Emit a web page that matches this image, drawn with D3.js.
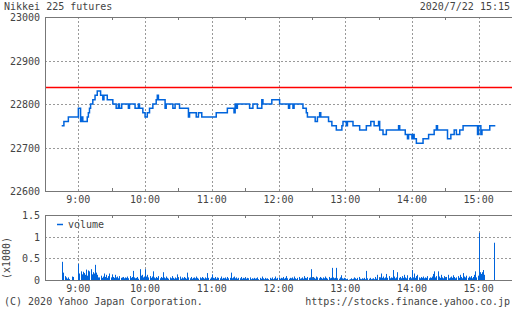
<!DOCTYPE html>
<html>
<head>
<meta charset="utf-8">
<script src="https://cdn.jsdelivr.net/npm/d3@7"></script>
<style>
  body { margin: 0; background: #fff; }
  svg text { font-family: "DejaVu Sans Mono", monospace; font-size: 10px; fill: #444; }
</style>
</head>
<body>
<svg class="graph"></svg>
<script>
// price steps: [time, price] (value holds until next step)
const priceTimes = ["08:45","08:47","08:51","09:00","09:02","09:03","09:04","09:08","09:09","09:10",
  "09:11","09:13","09:15","09:17","09:20","09:22","09:23","09:26","09:31","09:34",
  "09:36","09:37","09:39","09:45","09:46","09:51","09:54","09:55","09:58","10:00",
  "10:02","10:04","10:07","10:10","10:11","10:12","10:18","10:19","10:25","10:27",
  "10:31","10:39","10:40","10:46","10:48","10:51","11:04","11:14","11:20","11:21",
  "11:22","11:23","11:34","11:37","11:41","11:45","11:46","11:54","12:01","12:09",
  "12:10","12:13","12:14","12:22","12:25","12:26","12:33","12:35","12:37","12:38",
  "12:45","12:48","12:52","12:57","12:58","13:01","13:02","13:07","13:13","13:19",
  "13:23","13:26","13:30","13:31","13:34","13:37","13:48","13:49","13:54","13:56",
  "13:57","14:00","14:01","14:02","14:04","14:10","14:15","14:20","14:22","14:23",
  "14:32","14:35","14:38","14:40","14:43","14:46","14:59","15:00","15:02","15:03",
  "15:10","15:15"];
const priceValues = [22750,22760,22770,22790,22760,22770,22760,22770,22780,22790,
  22800,22810,22820,22830,22820,22810,22820,22810,22800,22790,
  22800,22790,22800,22790,22800,22790,22800,22790,22780,22770,
  22780,22790,22800,22810,22820,22810,22790,22800,22790,22800,
  22790,22770,22780,22770,22780,22770,22780,22790,22780,22800,
  22790,22800,22790,22800,22790,22810,22800,22810,22800,22790,
  22800,22790,22800,22790,22780,22770,22760,22770,22780,22770,
  22760,22750,22740,22750,22760,22750,22760,22750,22740,22750,
  22760,22750,22760,22740,22730,22740,22750,22740,22730,22720,
  22730,22720,22730,22720,22710,22720,22730,22740,22750,22740,
  22720,22730,22740,22730,22740,22750,22730,22750,22730,22740,
  22750,22750];

// 1-minute volume (x1000), from 08:45 to 15:15
const volStart = "08:45";
const volumes = [
  0.42,0.17,0.00,0.09,0.06,0.03,0.06,0.02,0.00,0.08,0.07,0.00,0.00,0.00,0.00,
  0.37,0.15,0.20,0.13,0.19,0.16,0.12,0.24,0.10,0.22,
  0.20,0.25,0.13,0.18,0.15,0.35,0.17,0.12,0.06,0.06,
  0.10,0.05,0.08,0.15,0.07,0.12,0.05,0.09,0.15,0.06,
  0.13,0.07,0.05,0.12,0.06,0.08,0.04,0.09,0.05,0.06,
  0.07,0.04,0.06,0.05,0.08,0.04,0.09,0.05,0.07,0.21,
  0.06,0.04,0.05,0.07,0.03,0.25,0.10,0.12,0.06,0.08,
  0.25,0.08,0.12,0.06,0.09,0.05,0.08,0.20,0.06,0.04,
  0.07,0.05,0.09,0.04,0.07,0.05,0.18,0.06,0.04,0.08,
  0.05,0.03,0.06,0.04,0.09,0.05,0.03,0.06,0.04,0.13,
  0.05,0.08,0.03,0.06,0.04,0.07,0.05,0.03,0.17,0.06,
  0.04,0.07,0.03,0.05,0.06,0.04,0.08,0.05,0.03,0.06,
  0.04,0.07,0.05,0.03,0.06,0.04,0.16,0.05,0.03,0.06,
  0.13,0.05,0.04,0.07,0.03,0.06,0.05,0.04,0.08,0.03,
  0.05,0.04,0.06,0.03,0.07,0.04,0.05,0.17,0.04,0.06,
  0.08,0.04,0.06,0.03,0.05,0.04,0.07,0.03,0.05,0.04,
  0.06,0.03,0.05,0.04,0.06,0.02,0.04,0.03,0.05,0.03,
  0.04,0.06,0.02,0.05,0.03,0.08,0.04,0.02,0.05,0.03,
  0.04,0.02,0.05,0.03,0.06,0.02,0.04,0.08,0.03,0.05,
  0.06,0.03,0.05,0.04,0.07,0.03,0.05,0.09,0.04,0.03,
  0.05,0.04,0.06,0.03,0.08,0.04,0.02,0.05,0.07,0.03,
  0.04,0.06,0.03,0.09,0.05,0.04,0.07,0.05,0.06,0.25,
  0.04,0.07,0.05,0.03,0.08,0.06,0.04,0.07,0.05,0.03,
  0.06,0.04,0.08,0.05,0.03,0.07,0.04,0.05,0.28,0.06,
  0.04,0.05,0.28,0.04,0.03,0.06,0.11,0.04,0.03,0.05,
  0.04,0.02,0.03,0.01,0.02,0.04,0.02,0.03,0.06,0.04,
  0.02,0.05,0.07,0.03,0.02,0.04,0.03,0.05,0.02,0.21,
  0.04,0.03,0.05,0.02,0.03,0.04,0.02,0.07,0.03,0.12,
  0.04,0.06,0.15,0.05,0.08,0.04,0.06,0.14,0.05,0.09,
  0.04,0.06,0.05,0.23,0.08,0.04,0.06,0.18,0.05,0.07,
  0.04,0.09,0.05,0.12,0.06,0.04,0.11,0.05,0.07,0.04,
  0.23,0.06,0.15,0.05,0.09,0.12,0.06,0.04,0.07,0.05,
  0.08,0.04,0.06,0.05,0.09,0.04,0.06,0.05,0.08,0.14,
  0.20,0.06,0.09,0.20,0.08,0.05,0.12,0.06,0.04,0.09,
  0.05,0.07,0.12,0.04,0.06,0.08,0.05,0.11,0.07,0.04,
  0.06,0.09,0.05,0.12,0.07,0.04,0.16,0.08,0.06,0.10,
  0.05,0.08,0.06,0.09,0.04,0.07,0.12,0.20,0.06,0.10,
  1.09,0.18,0.14,0.18,0.23,0.12,0.00,0.00,0.00,0.00,
  0.00,0.00,0.00,0.00,0.86,0.00];

const priceTicks = [22600, 22700, 22800, 22900, 23000];
const volTicks = [0, 0.5, 1, 1.5];
const hourTicks = ["09:00","10:00","11:00","12:00","13:00","14:00","15:00"];
const halfTicks = ["09:30","10:30","11:30","12:30","13:30","14:30"];
const prevClose = 22840;
const title = "Nikkei 225 futures";
const stamp = "2020/7/22 15:15";

const parse = d3.timeParse("%H:%M");
const width = 512, height = 310;
const left = 45, right = 512;
const blue = "#0064dc";
const closeColor = "#ff0000";

const svg = d3.select(".graph").attr("width", width).attr("height", height);

const x = d3.scaleTime().domain([parse("08:30"), parse("15:30")]).range([left, right]);
const y = d3.scaleLinear().domain([22600, 23000]).range([191, 17]);
const yv = d3.scaleLinear().domain([0, 1.5]).range([280, 215]);

function panel(ys, ticks, fmt, top, bottom) {
  const g = svg.append("g").attr("shape-rendering", "crispEdges");
  // dotted grid
  g.selectAll(".hg").data(ticks.filter(t => ys(t) > top + 1 && ys(t) < bottom - 1)).enter()
    .append("line")
      .attr("x1", left).attr("x2", right)
      .attr("y1", d => Math.round(ys(d)) + 0.5).attr("y2", d => Math.round(ys(d)) + 0.5)
      .attr("stroke", "#999").attr("stroke-dasharray", "2,2");
  g.selectAll(".vg").data(hourTicks.map(parse)).enter()
    .append("line")
      .attr("x1", d => Math.round(x(d)) + 0.5).attr("x2", d => Math.round(x(d)) + 0.5)
      .attr("y1", top).attr("y2", bottom)
      .attr("stroke", "#999").attr("stroke-dasharray", "2,2");
  // half hour ticks
  g.selectAll(".ht").data(halfTicks.map(parse)).enter()
    .append("path")
      .attr("d", d => {
        const xx = Math.round(x(d)) + 0.5;
        return `M${xx},${top}V${top + 3}M${xx},${bottom}V${bottom - 3}`;
      })
      .attr("stroke", "#777");
  // frame
  g.append("path")
    .attr("d", `M${right},${top + 0.5}H${left + 0.5}V${bottom + 0.5}H${right}`)
    .attr("fill", "none").attr("stroke", "#777");
  // y labels
  g.selectAll(".yl").data(ticks).enter()
    .append("text")
      .attr("x", 40).attr("y", d => ys(d) + 4)
      .attr("text-anchor", "end")
      .text(fmt);
  return g;
}

panel(y, priceTicks, d => d, 17, 191);
panel(yv, volTicks, d => d, 215, 280);

// x labels
[203, 292].forEach(by => {
  svg.selectAll(null).data(hourTicks).enter()
    .append("text")
      .attr("x", d => x(parse(d)))
      .attr("y", by)
      .attr("text-anchor", "middle")
      .text(d => d.replace(/^0/, ""));
});

// previous close
svg.append("line")
  .attr("x1", left + 1).attr("x2", right)
  .attr("y1", Math.round(y(prevClose)) + 0.5).attr("y2", Math.round(y(prevClose)) + 0.5)
  .attr("stroke", closeColor)
  .attr("stroke-width", 1.4);

// price step line
const pts = priceTimes.map((t, i) => [parse(t), priceValues[i]]);
const line = d3.line().x(d => x(d[0])).y(d => y(d[1])).curve(d3.curveStepAfter);
svg.append("path")
  .datum(pts)
  .attr("d", line)
  .attr("fill", "none")
  .attr("stroke", blue)
  .attr("stroke-width", 1.5);

// volume bars
const t0 = parse(volStart);
const vdata = volumes.map((v, i) => [d3.timeMinute.offset(t0, i), v]);
svg.selectAll(".vb").data(vdata.filter(d => d[1] > 0)).enter()
  .append("rect")
    .attr("x", d => Math.round(x(d[0])))
    .attr("width", 1)
    .attr("y", d => yv(d[1]))
    .attr("height", d => yv(0) - yv(d[1]))
    .attr("fill", blue);

// legend
svg.append("line")
  .attr("x1", 57).attr("x2", 63).attr("y1", 224.5).attr("y2", 224.5)
  .attr("stroke", blue).attr("stroke-width", 1.5);
svg.append("text").attr("x", 68).attr("y", 228).text("volume");

// y title of volume
svg.append("text")
  .attr("transform", "translate(10,258) rotate(-90)")
  .attr("text-anchor", "middle")
  .text("(x1000)");

// header / footer
svg.append("text").attr("x", 4).attr("y", 10).text(title);
svg.append("text").attr("x", 510).attr("y", 10).attr("text-anchor", "end").text(stamp);
svg.append("text").attr("x", 4).attr("y", 305).text("(C) 2020 Yahoo Japan Corporation.");
svg.append("text").attr("x", 510).attr("y", 305).attr("text-anchor", "end").text("https://stocks.finance.yahoo.co.jp");
</script>
</body>
</html>
